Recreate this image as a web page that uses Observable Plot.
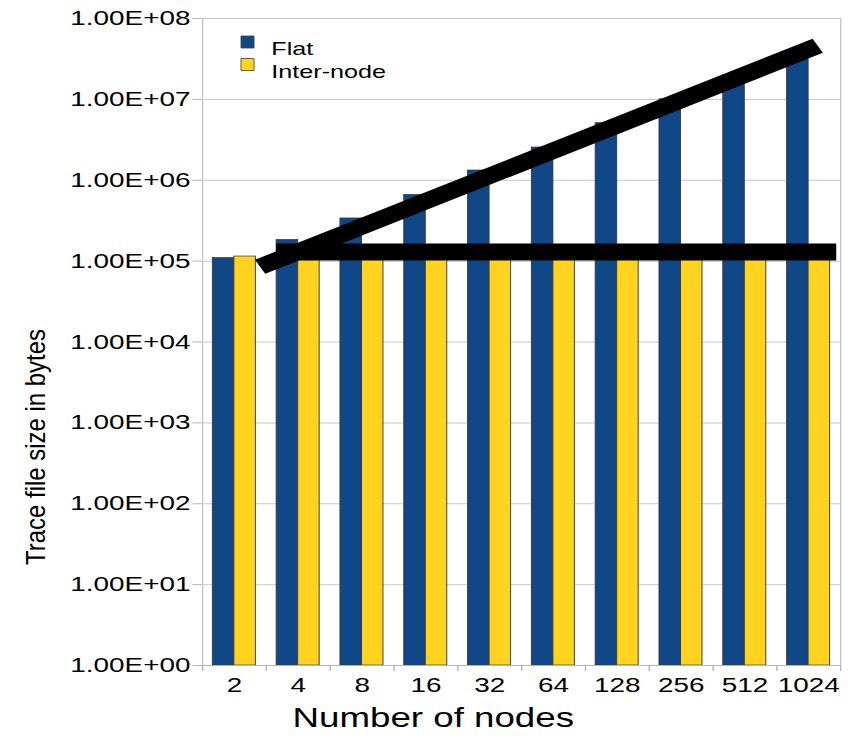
<!DOCTYPE html>
<html>
<head>
<meta charset="utf-8">
<script src="https://cdn.jsdelivr.net/npm/d3@7"></script>
<script src="https://cdn.jsdelivr.net/npm/@observablehq/plot@0.6"></script>
<style>
  html, body { margin: 0; padding: 0; background: #fff; }
  #chart svg { display: block; }
</style>
</head>
<body>
<div id="chart"></div>
<script>
// ---- data ----
const nodes = ["2", "4", "8", "16", "32", "64", "128", "256", "512", "1024"];
const flat = [1.09e5, 1.83e5, 3.37e5, 6.6e5, 1.32e6, 2.54e6, 5.08e6, 1.0e7, 2.0e7, 4.0e7];
const interNode = [1.14e5, 1.06e5, 1.06e5, 1.06e5, 1.06e5, 1.06e5, 1.06e5, 1.06e5, 1.06e5, 1.06e5];
const series = ["Flat", "Inter-node"];
const colors = ["#0f4787", "#ffd320"];
const yTicks = [1, 10, 100, 1e3, 1e4, 1e5, 1e6, 1e7, 1e8];
// hand-drawn annotation strokes (position in node-index units, size in bytes)
const growthLine = [{pos: 0.40, size: 8.5e4}, {pos: 9.14, size: 4.6e7}];
const constLine = [{pos: 0.65, size: 1.3e5}, {pos: 9.43, size: 1.3e5}];
const xTitle = "Number of nodes";
const yTitle = "Trace file size in bytes";

// ---- layout (drawn in a narrower space, then stretched horizontally like the reference) ----
const OUT_W = 850, H = 738, STRETCH = 1.36;
const W = OUT_W / STRETCH;
const barHalf = 0.337;

const rows = [];
nodes.forEach((n, i) => {
  rows.push({pos: i, series: "Flat", size: flat[i]});
  rows.push({pos: i, series: "Inter-node", size: interNode[i]});
});
const bounds = d3.range(nodes.length + 1).map(i => i - 0.5);
const centers = d3.range(nodes.length);
const fmtE = d => "1.00E+" + String(Math.round(Math.log10(d))).padStart(2, "0");

const rectSymbol = {
  draw(ctx, size) {
    const h = 2 * Math.sqrt(size / Math.PI);
    const w = h * 0.8;
    ctx.rect(-w / 2, -h / 2, w, h);
  }
};

const legendMarks = series.flatMap((s, k) => [
  Plot.dot([s], {frameAnchor: "top-left", dx: 33, dy: 23.5 + k * 22.5, r: 6,
    symbol: rectSymbol, fill: colors[k], stroke: "#444", strokeWidth: 0.7}),
  Plot.text([s], {frameAnchor: "top-left", dx: 50.5, dy: 23.5 + k * 22.5, text: d => d,
    textAnchor: "start", fontSize: 18.5, fill: "#000"})
]);

const svg = Plot.plot({
  width: W,
  height: H,
  marginLeft: 148.5,
  marginRight: W - 840 / STRETCH,
  marginTop: 18,
  marginBottom: 73,
  style: {fontFamily: "'Liberation Sans', Arial, sans-serif", background: "#fff", color: "#000"},
  x: {type: "linear", domain: [-0.5, nodes.length - 0.5], axis: null},
  y: {type: "log", domain: [1, 1e8], axis: null},
  color: {domain: series, range: colors},
  marks: [
    Plot.gridY(yTicks, {stroke: "#c8c8c8", strokeOpacity: 1}),
    Plot.axisY(yTicks, {tickFormat: fmtE, tickSize: 7, tickPadding: 2, stroke: "#b4b4b4",
      fill: "#000", fontSize: 20.5, label: null}),
    Plot.ruleX([-0.5, nodes.length - 0.5], {stroke: "#c4c4c4"}),
    Plot.rectY(rows, {
      x1: d => d.series === "Flat" ? d.pos - barHalf : d.pos,
      x2: d => d.series === "Flat" ? d.pos : d.pos + barHalf,
      y1: 1, y2: "size", fill: "series", stroke: "#3a3a3a", strokeWidth: 0.7
    }),
    Plot.ruleY([1], {stroke: "#b4b4b4"}),
    Plot.ruleX(bounds, {x: d => d, y1: 1, y2: 1, insetBottom: -6, stroke: "#b4b4b4"}),
    Plot.axisX(centers, {tickFormat: i => nodes[i], tickSize: 0, tickPadding: 12,
      fontSize: 20.5, fill: "#000", label: null}),
    Plot.line(constLine, {x: "pos", y: "size", stroke: "#000", strokeWidth: 17, strokeLinecap: "butt"}),
    Plot.line(growthLine, {x: "pos", y: "size", stroke: "#000", strokeWidth: 16, strokeLinecap: "butt"}),
    ...legendMarks,
    Plot.text([xTitle], {frameAnchor: "bottom", text: d => d, dx: -65, dy: 61, fontSize: 27, fill: "#000"})
  ]
});

// y-axis title (rotated, stretched along its length like the reference)
d3.select(svg).append("text")
  .attr("transform", `translate(${35 / STRETCH},447) rotate(-90)`)
  .attr("text-anchor", "middle")
  .attr("dominant-baseline", "central")
  .attr("font-size", 20)
  .attr("fill", "#000")
  .attr("textLength", 236)
  .attr("lengthAdjust", "spacingAndGlyphs")
  .text(yTitle);

svg.setAttribute("viewBox", `0 0 ${W} ${H}`);
svg.setAttribute("preserveAspectRatio", "none");
svg.setAttribute("width", OUT_W);
svg.setAttribute("height", H);
svg.style.setProperty("width", OUT_W + "px", "important");
svg.style.setProperty("height", H + "px", "important");
svg.style.setProperty("max-width", "none", "important");
document.getElementById("chart").appendChild(svg);
</script>
</body>
</html>
